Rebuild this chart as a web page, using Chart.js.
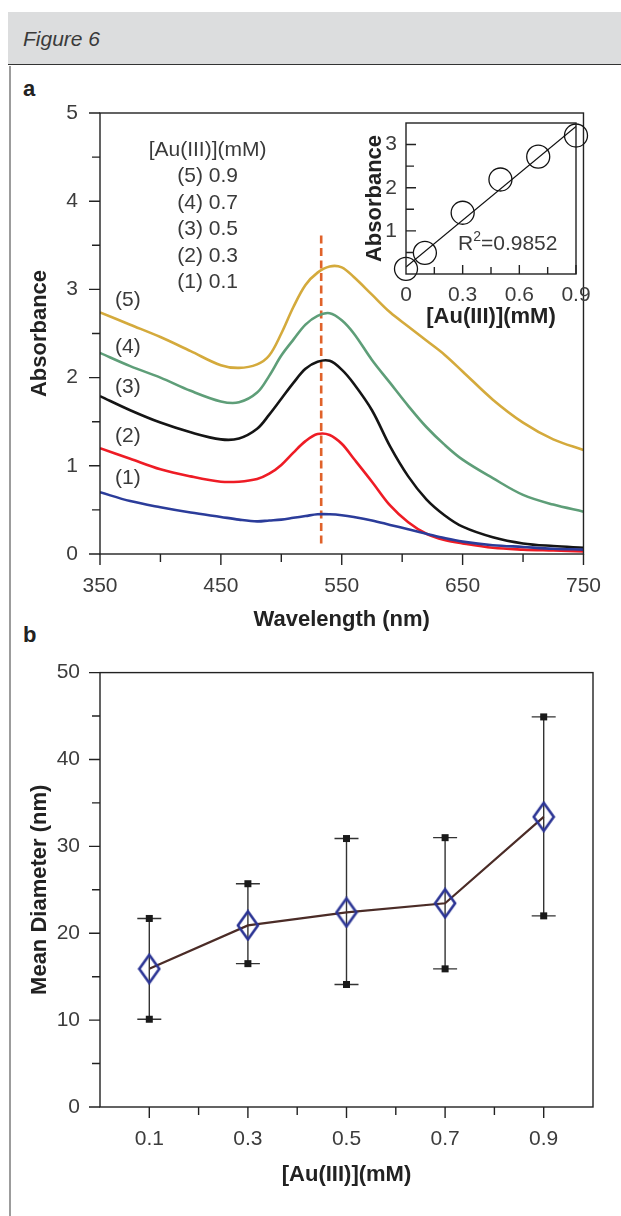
<!DOCTYPE html>
<html>
<head>
<meta charset="utf-8">
<script src="https://cdn.jsdelivr.net/npm/chart.js@4.4.1/dist/chart.umd.min.js"></script>
<style>
  html, body { margin: 0; padding: 0; background: #fff; }
  body { width: 621px; height: 1216px; position: relative; overflow: hidden; font-family: "Liberation Sans", Arial, sans-serif; }
  #header { position: absolute; left: 8px; top: 12px; width: 613px; height: 52px; background: #dcddde; border-bottom: 1.5px solid #333; }
  #header span { position: absolute; left: 15px; top: 15px; font-style: italic; font-size: 21px; color: #3a3a3a; }
  #frame { position: absolute; left: 9px; top: 66px; width: 2px; height: 1150px; background: #9c9c9c; }
  .panel { position: absolute; font-weight: bold; font-size: 22px; color: #222; }
  canvas { position: absolute; }
</style>
</head>
<body>
<div id="header"><span>Figure 6</span></div>
<div id="frame"></div>
<div class="panel" style="left:23px; top:76px;">a</div>
<div class="panel" style="left:23px; top:622px;">b</div>
<canvas id="specChart" width="621" height="640" style="left:0; top:0;"></canvas>
<canvas id="insetChart" width="270" height="240" style="left:340px; top:100px;"></canvas>
<canvas id="sizeChart" width="621" height="576" style="left:0; top:640px;"></canvas>
<script>
// spectres UV-vis (panneau a)
const wavelengths = [350, 375, 400, 425, 450, 465, 480, 490, 500, 510, 520, 530, 540, 550, 560, 575, 590, 605, 620, 635, 650, 675, 700, 725, 750];
const abs09 = [2.74, 2.60, 2.46, 2.30, 2.14, 2.11, 2.15, 2.25, 2.50, 2.80, 3.05, 3.19, 3.26, 3.25, 3.14, 2.94, 2.74, 2.58, 2.42, 2.26, 2.07, 1.75, 1.49, 1.30, 1.18];
const abs07 = [2.28, 2.13, 2.00, 1.85, 1.73, 1.72, 1.83, 2.02, 2.25, 2.43, 2.60, 2.70, 2.73, 2.65, 2.50, 2.20, 1.94, 1.68, 1.44, 1.24, 1.07, 0.86, 0.67, 0.56, 0.48];
const abs05 = [1.79, 1.63, 1.49, 1.38, 1.30, 1.31, 1.42, 1.58, 1.76, 1.94, 2.10, 2.18, 2.19, 2.09, 1.93, 1.63, 1.22, 0.88, 0.62, 0.44, 0.31, 0.19, 0.12, 0.09, 0.07];
const abs03 = [1.20, 1.08, 0.96, 0.88, 0.82, 0.82, 0.85, 0.91, 1.01, 1.15, 1.28, 1.36, 1.35, 1.25, 1.08, 0.82, 0.55, 0.36, 0.23, 0.16, 0.12, 0.07, 0.05, 0.04, 0.03];
const abs01 = [0.70, 0.60, 0.53, 0.47, 0.42, 0.39, 0.37, 0.38, 0.39, 0.41, 0.43, 0.45, 0.45, 0.44, 0.42, 0.38, 0.33, 0.28, 0.23, 0.18, 0.14, 0.10, 0.08, 0.06, 0.05];
const curveNames = ["(5)", "(4)", "(3)", "(2)", "(1)"];
const curveLabelAbs = [2.88, 2.34, 1.89, 1.33, 0.86];
const legendLines = ["[Au(III)](mM)", "(5) 0.9", "(4) 0.7", "(3) 0.5", "(2) 0.3", "(1) 0.1"];
const peakWavelength = 533;
const peakLineAbs = [0.12, 3.62];
const specXTicks = [350, 450, 550, 650, 750];
const specXMinor = [400, 500, 600, 700];
const specYTicks = [0, 1, 2, 3, 4, 5];
const specYMinor = [0.5, 1.5, 2.5, 3.5, 4.5];

// encart : absorbance au pic
const insetConc = [0, 0.1, 0.3, 0.5, 0.7, 0.9];
const insetAbs = [0.12, 0.49, 1.42, 2.19, 2.72, 3.21];
const fitConc = [0, 0.9];
const fitAbs = [0.16, 3.42];
const insetXTicks = [0, 0.3, 0.6, 0.9];
const insetXMinor = [0.15, 0.45, 0.75];
const insetYTicks = [1, 2, 3];
const insetYMinor = [0.5, 1.5, 2.5];

// diamètre moyen (panneau b)
const sizeConc = [0.1, 0.3, 0.5, 0.7, 0.9];
const sizeMean = [15.9, 20.9, 22.4, 23.45, 33.4];
const sizeHigh = [21.7, 25.7, 30.9, 31.0, 44.9];
const sizeLow = [10.1, 16.5, 14.1, 15.9, 22.0];
const sizeXMinor = [0.2, 0.4, 0.6, 0.8];
const sizeYTicks = [0, 10, 20, 30, 40, 50];
const sizeYMinor = [5, 15, 25, 35, 45];

const tickFont = { family: "Liberation Sans", size: 21 };
const titleFont = { family: "Liberation Sans", size: 22, weight: "bold" };
const tickColor = "#3c3c3c";

// cadre + graduations (majeures / mineures)
const frameTicks = {
  id: "frameTicks",
  afterDatasetsDraw(chart, args, o) {
    const { ctx, chartArea: a, scales } = chart;
    ctx.save();
    ctx.strokeStyle = "#222";
    ctx.lineWidth = 1.4;
    ctx.strokeRect(a.left, a.top, a.right - a.left, a.bottom - a.top);
    const d = o.inward ? -1 : 1;
    ctx.beginPath();
    o.x.forEach(([v, len]) => {
      const p = scales.x.getPixelForValue(v);
      ctx.moveTo(p, a.bottom);
      ctx.lineTo(p, a.bottom + d * len);
    });
    o.y.forEach(([v, len]) => {
      const p = scales.y.getPixelForValue(v);
      ctx.moveTo(a.left, p);
      ctx.lineTo(a.left - d * len, p);
    });
    ctx.stroke();
    ctx.restore();
  }
};

function fixedTicks(values) {
  return (scale) => { scale.ticks = values.map((v) => ({ value: v })); };
}

function pairs(xs, ys) {
  return xs.map((x, i) => ({ x: x, y: ys[i] }));
}

// --- panneau a ---
const specNotes = {
  id: "specNotes",
  beforeDatasetsDraw(chart) {
    const { ctx, scales } = chart;
    const px = scales.x.getPixelForValue(peakWavelength);
    ctx.save();
    ctx.strokeStyle = "#e0622a";
    ctx.lineWidth = 2.6;
    ctx.setLineDash([8, 4.5]);
    ctx.beginPath();
    ctx.moveTo(px, scales.y.getPixelForValue(peakLineAbs[0]));
    ctx.lineTo(px, scales.y.getPixelForValue(peakLineAbs[1]));
    ctx.stroke();
    ctx.restore();
  },
  afterDraw(chart) {
    const { ctx, scales, chartArea } = chart;
    ctx.save();
    ctx.font = "21px 'Liberation Sans'";
    ctx.fillStyle = "#3a3a3a";
    ctx.textAlign = "center";
    ctx.textBaseline = "middle";
    curveNames.forEach((t, i) => {
      ctx.fillText(t, scales.x.getPixelForValue(373), scales.y.getPixelForValue(curveLabelAbs[i]));
    });
    const cx = scales.x.getPixelForValue(439);
    legendLines.forEach((t, i) => {
      ctx.fillText(t, cx, chartArea.top + 37 + i * 26.5);
    });
    ctx.restore();
  }
};

const specColors = ["#d4aa3c", "#5e9e78", "#151515", "#ee1c25", "#2b3c9a"];
const specSeries = [abs09, abs07, abs05, abs03, abs01];

new Chart(document.getElementById("specChart"), {
  type: "line",
  data: {
    datasets: specSeries.map((s, i) => ({
      label: curveNames[i],
      data: pairs(wavelengths, s),
      borderColor: specColors[i],
      borderWidth: 2.6,
      pointRadius: 0,
      tension: 0.35,
      fill: false
    })).reverse()
  },
  options: {
    responsive: false,
    animation: false,
    layout: { padding: { left: 0, top: 113, right: 28, bottom: 0 } },
    plugins: {
      legend: { display: false },
      tooltip: { enabled: false },
      frameTicks: {
        inward: false,
        x: specXTicks.map((v) => [v, 11]).concat(specXMinor.map((v) => [v, 8])),
        y: specYTicks.map((v) => [v, 11]).concat(specYMinor.map((v) => [v, 8]))
      }
    },
    scales: {
      x: {
        type: "linear", min: 350, max: 750,
        afterBuildTicks: fixedTicks(specXTicks),
        afterFit: (s) => { s.height = 86; },
        grid: { display: false, drawTicks: false },
        border: { display: false },
        ticks: { font: tickFont, color: tickColor, padding: 20, maxRotation: 0 },
        title: { display: true, text: "Wavelength (nm)", font: titleFont, color: "#222", padding: { top: 0, bottom: 7 } }
      },
      y: {
        min: 0, max: 5,
        afterBuildTicks: fixedTicks(specYTicks),
        afterFit: (s) => { s.width = 100; },
        grid: { display: false, drawTicks: false },
        border: { display: false },
        ticks: { font: tickFont, color: tickColor, padding: 22 },
        title: { display: true, text: "Absorbance", font: titleFont, color: "#222", padding: { top: 27, bottom: 0 } }
      }
    }
  },
  plugins: [specNotes, frameTicks]
});

// --- encart ---
const insetNote = {
  id: "insetNote",
  afterDraw(chart) {
    const { ctx, chartArea: a } = chart;
    ctx.save();
    ctx.fillStyle = "#3a3a3a";
    ctx.textBaseline = "alphabetic";
    let x = a.left + 52;
    const y = a.top + 127;
    ctx.font = "21px 'Liberation Sans'";
    ctx.fillText("R", x, y);
    x += ctx.measureText("R").width;
    ctx.font = "14px 'Liberation Sans'";
    ctx.fillText("2", x, y - 9);
    x += ctx.measureText("2").width;
    ctx.font = "21px 'Liberation Sans'";
    ctx.fillText("=0.9852", x, y);
    ctx.restore();
  }
};

new Chart(document.getElementById("insetChart"), {
  type: "line",
  data: {
    datasets: [
      {
        label: "fit",
        data: pairs(fitConc, fitAbs),
        borderColor: "#111",
        borderWidth: 1.2,
        pointRadius: 0
      },
      {
        label: "peak",
        data: pairs(insetConc, insetAbs),
        showLine: false,
        pointStyle: "circle",
        pointRadius: 11.5,
        borderColor: "#111",
        borderWidth: 1.3,
        backgroundColor: "rgba(0,0,0,0)",
        clip: false
      }
    ]
  },
  options: {
    responsive: false,
    animation: false,
    layout: { padding: { left: 0, top: 23, right: 34, bottom: 0 } },
    plugins: {
      legend: { display: false },
      tooltip: { enabled: false },
      frameTicks: {
        inward: true,
        x: insetXTicks.slice(1).map((v) => [v, 9]).concat(insetXMinor.map((v) => [v, 7])),
        y: insetYTicks.map((v) => [v, 10]).concat(insetYMinor.map((v) => [v, 8]))
      }
    },
    scales: {
      x: {
        type: "linear", min: 0, max: 0.9,
        afterBuildTicks: fixedTicks(insetXTicks),
        afterFit: (s) => { s.height = 66; },
        grid: { display: false, drawTicks: false },
        border: { display: false },
        ticks: { font: tickFont, color: tickColor, padding: 9, maxRotation: 0, callback: (v) => String(v) },
        title: { display: true, text: "[Au(III)](mM)", font: titleFont, color: "#222", padding: { top: 0, bottom: 10 } }
      },
      y: {
        min: 0, max: 3.5,
        afterBuildTicks: fixedTicks(insetYTicks),
        afterFit: (s) => { s.width = 66; },
        grid: { display: false, drawTicks: false },
        border: { display: false },
        ticks: { font: tickFont, color: tickColor, padding: 9 },
        title: { display: true, text: "Absorbance", font: titleFont, color: "#222", padding: { top: 22, bottom: 0 } }
      }
    }
  },
  plugins: [insetNote, frameTicks]
});

// --- panneau b ---
function diamond(w, h, color) {
  const c = document.createElement("canvas");
  c.width = w + 4;
  c.height = h + 4;
  const g = c.getContext("2d");
  g.strokeStyle = color;
  g.lineWidth = 2.6;
  g.beginPath();
  g.moveTo(c.width / 2, 2);
  g.lineTo(c.width - 2, c.height / 2);
  g.lineTo(c.width / 2, c.height - 2);
  g.lineTo(2, c.height / 2);
  g.closePath();
  g.stroke();
  return c;
}

const errorBars = {
  id: "errorBars",
  beforeDatasetsDraw(chart) {
    const { ctx, scales } = chart;
    ctx.save();
    ctx.strokeStyle = "#333";
    ctx.fillStyle = "#1a1a1a";
    ctx.lineWidth = 1.4;
    sizeConc.forEach((c, i) => {
      const x = scales.x.getPixelForValue(c);
      const yh = scales.y.getPixelForValue(sizeHigh[i]);
      const yl = scales.y.getPixelForValue(sizeLow[i]);
      ctx.beginPath();
      ctx.moveTo(x, yh); ctx.lineTo(x, yl);
      ctx.moveTo(x - 12, yh); ctx.lineTo(x + 12, yh);
      ctx.moveTo(x - 12, yl); ctx.lineTo(x + 12, yl);
      ctx.stroke();
      ctx.fillRect(x - 3.5, yh - 3.5, 7, 7);
      ctx.fillRect(x - 3.5, yl - 3.5, 7, 7);
    });
    ctx.restore();
  }
};

new Chart(document.getElementById("sizeChart"), {
  type: "line",
  data: {
    datasets: [{
      label: "Mean Diameter",
      data: pairs(sizeConc, sizeMean),
      borderColor: "#4b2c27",
      borderWidth: 2.2,
      pointStyle: diamond(20, 28, "#2b3494"),
      pointRadius: 12,
      tension: 0
    }]
  },
  options: {
    responsive: false,
    animation: false,
    layout: { padding: { left: 0, top: 27, right: 28, bottom: 0 } },
    plugins: {
      legend: { display: false },
      tooltip: { enabled: false },
      frameTicks: {
        inward: false,
        x: sizeConc.map((v) => [v, 11]).concat(sizeXMinor.map((v) => [v, 8])),
        y: sizeYTicks.map((v) => [v, 11]).concat(sizeYMinor.map((v) => [v, 8]))
      }
    },
    scales: {
      x: {
        type: "linear", min: 0, max: 1.0,
        afterBuildTicks: fixedTicks(sizeConc),
        afterFit: (s) => { s.height = 109; },
        grid: { display: false, drawTicks: false },
        border: { display: false },
        ticks: { font: tickFont, color: tickColor, padding: 20, maxRotation: 0, callback: (v) => String(v) },
        title: { display: true, text: "[Au(III)](mM)", font: titleFont, color: "#222", padding: { top: 0, bottom: 28 } }
      },
      y: {
        min: 0, max: 50,
        afterBuildTicks: fixedTicks(sizeYTicks),
        afterFit: (s) => { s.width = 100; },
        grid: { display: false, drawTicks: false },
        border: { display: false },
        ticks: { font: tickFont, color: tickColor, padding: 20 },
        title: { display: true, text: "Mean Diameter (nm)", font: titleFont, color: "#222", padding: { top: 27, bottom: 0 } }
      }
    }
  },
  plugins: [errorBars, frameTicks]
});
</script>
</body>
</html>
